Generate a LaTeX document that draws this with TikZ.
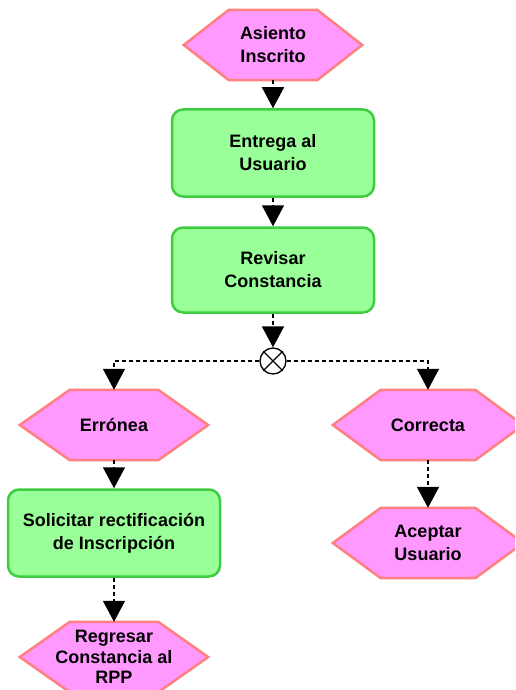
\documentclass[tikz,border=0pt]{standalone}
\usepackage{fontspec}
\setmainfont{Liberation Sans}
\usetikzlibrary{arrows.meta,backgrounds}
\definecolor{pinkfill}{HTML}{FF99FF}
\definecolor{pinkline}{HTML}{FF8080}
\definecolor{greenfill}{HTML}{99FF99}
\definecolor{greenline}{HTML}{40CC40}
\tikzset{
  lbl/.style={font=\bfseries\fontsize{18}{23}\selectfont, align=center, inner sep=0pt},
  hexbox/.style={lbl, draw=none},
  procbox/.style={lbl, draw=greenline, fill=greenfill, line width=2.5pt, rounded corners=11pt},
  hexline/.style={draw=pinkline, fill=pinkfill, line width=2.5pt, line join=miter},
  conn/.style={draw=black, line width=1.5pt, dash pattern=on 4pt off 3pt,
    -{Triangle[width=22pt,length=21pt]}},
  xorbox/.style={circle, draw=black, fill=white, line width=1.3pt, minimum size=26pt, inner sep=0pt}
}
\newcommand\hexshape[2]{% node name, inset
  \path[hexline] (#1.west) -- ([xshift=#2pt]#1.north west) -- ([xshift=-#2pt]#1.north east)
    -- (#1.east) -- ([xshift=-#2pt]#1.south east) -- ([xshift=#2pt]#1.south west) -- cycle;}
\begin{document}
\begin{tikzpicture}[x=1pt,y=-1pt]
\useasboundingbox (0,0) rectangle (515,690);

% hexagon events
\node[hexbox, minimum width=178pt, minimum height=70pt] (asiento) at (273,45) {Asiento\\Inscrito};
\node[hexbox, minimum width=188pt, minimum height=70pt] (erronea) at (114,425) {Errónea};
\node[hexbox, minimum width=190pt, minimum height=70pt] (correcta) at (428,425) {Correcta};
\node[hexbox, minimum width=190pt, minimum height=70pt] (aceptar) at (428,543) {Aceptar\\Usuario};
\node[hexbox, minimum width=188pt, minimum height=70pt, font=\bfseries\fontsize{18}{20.5}\selectfont] (regresar) at (114,657) {Regresar\\Constancia al\\RPP};

\begin{pgfonlayer}{background}
\clip (0,0) rectangle (515,690);
\hexshape{asiento}{45}
\hexshape{erronea}{50}
\hexshape{correcta}{48}
\hexshape{aceptar}{48}
\hexshape{regresar}{50}
\end{pgfonlayer}

% functions
\node[procbox, minimum width=202pt, minimum height=87pt] (entrega) at (273,153) {Entrega al\\Usuario};
\node[procbox, minimum width=202pt, minimum height=85pt] (revisar) at (273,270) {Revisar\\Constancia};
\node[procbox, minimum width=212pt, minimum height=87pt] (solicitar) at (114,533) {Solicitar rectificación\\de Inscripción};

% XOR connector
\node[xorbox] (xor) at (273,361) {};
\draw[line width=1.3pt] (xor.north west) -- (xor.south east) (xor.north east) -- (xor.south west);

% connectors
\draw[conn] (asiento.south) -- (entrega.north);
\draw[conn] (entrega.south) -- (revisar.north);
\draw[conn] (revisar.south) -- (xor.north);
\draw[conn] (xor.west) -| (erronea.north);
\draw[conn] (xor.east) -| (correcta.north);
\draw[conn] (erronea.south) -- (solicitar.north);
\draw[conn] (solicitar.south) -- (regresar.north);
\draw[conn] (correcta.south) -- (aceptar.north);
\end{tikzpicture}
\end{document}
